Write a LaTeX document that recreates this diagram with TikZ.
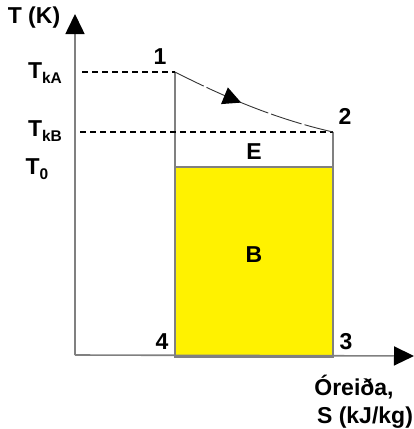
\documentclass[tikz,border=0pt]{standalone}
\usepackage{fontspec}
\setmainfont{Liberation Sans}[BoldFont={Liberation Sans Bold}]
\usetikzlibrary{arrows.meta, decorations.markings}
\newcommand{\lowsub}[1]{\raisebox{-0.45ex}{\fontsize{15.5}{15.5}\selectfont\bfseries #1}}
\tikzstyle{lbl}=[font=\fontsize{23}{25}\selectfont\bfseries, inner sep=0pt]
\tikzstyle{axis}=[draw=gray, line width=1.6pt, -{Triangle[length=20pt, width=19pt, fill=black, color=black]}]
\tikzstyle{level}=[line width=1.6pt, dash pattern=on 6pt off 4pt]
\tikzstyle{edge}=[draw=gray, line width=1.3pt]

\begin{document}
\begin{tikzpicture}[x=1pt, y=-1pt]
    \useasboundingbox (0,0) rectangle (414,429);
    \coordinate (o) at (75,355);
    \coordinate (ty) at (75,14);
    \coordinate (tx) at (414,356);
    \coordinate (v1) at (175,72);
    \coordinate (v2) at (333,132);
    \coordinate (v3) at (333,357);
    \coordinate (v4) at (175,357);
    \coordinate (v0) at (175,167);
    \coordinate (ka) at (82,72);
    \coordinate (kb) at (80,132);
    \fill[yellow, draw=gray, line width=1.3pt] (v4) rectangle (v2 |- v0);
    \draw[edge] (v1) -- (v0);
    \draw[edge] (v2) -- (v2 |- v0);
    \draw[level] (ka) -- (v1);
    \draw[level] (kb) -- (v2);
    \draw[axis] (o) -- (ty);
    \draw[axis] (o) -- (tx);
    \draw[line width=0.9pt, black!80, dash pattern=on 32pt off 3pt,
        postaction={decorate, decoration={markings,
        mark=at position 0.43 with {\fill[black] (0,0) -- (-18pt,9pt) -- (-18pt,-9pt) -- cycle;}}}]
        (v1) .. controls (230,100) and (280,120) .. (v2);
    \node[lbl] (tk) at (34,18) {T (K)};
    \node[lbl] (tka) at (45,73) {T\lowsub{kA}};
    \node[lbl] (tkb) at (45,131) {T\lowsub{kB}};
    \node[lbl] (t0) at (37,169) {T\lowsub{0}};
    \node[lbl] (n1) at (160,57) {1};
    \node[lbl] (n2) at (345,116) {2};
    \node[lbl] (n3) at (346,342) {3};
    \node[lbl] (n4) at (162,342) {4};
    \node[lbl] (e) at (254,152) {E};
    \node[lbl] (b) at (254,255) {B};
    \node[lbl] (s1) at (354,387) {Óreiða,};
    \node[lbl] (s2) at (365,418) {S (kJ/kg)};
\end{tikzpicture}
\end{document}
